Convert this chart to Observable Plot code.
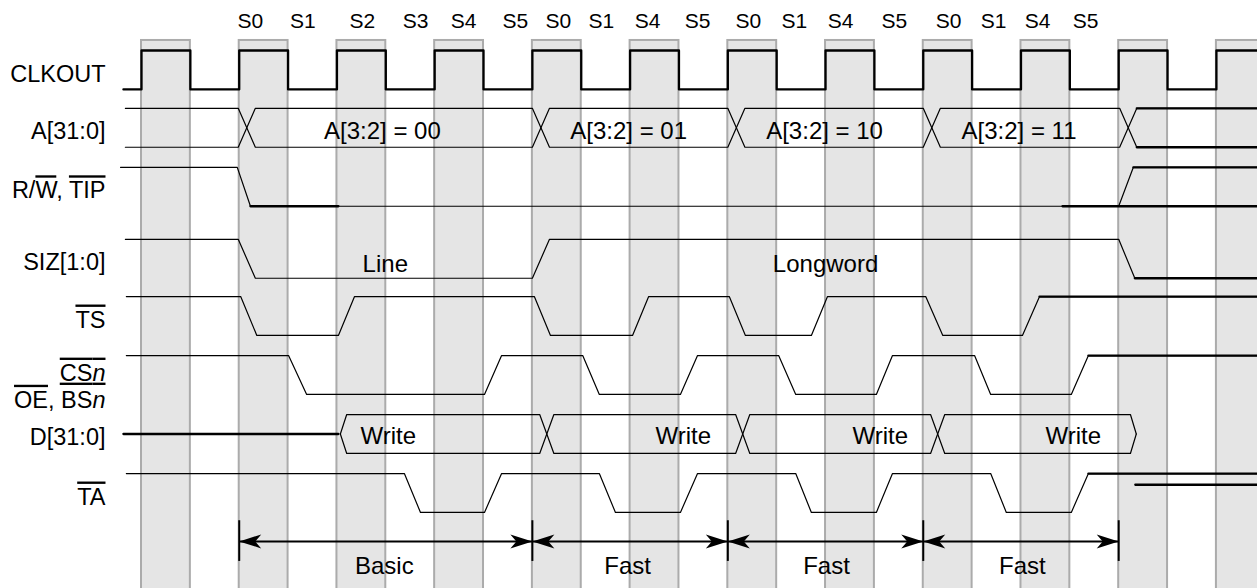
<!DOCTYPE html>
<html><head><meta charset="utf-8">
<script src="https://cdn.jsdelivr.net/npm/d3@7"></script>
<script src="https://cdn.jsdelivr.net/npm/@observablehq/plot@0.6"></script>
<style>html,body{margin:0;padding:0;background:#fff;overflow:hidden}svg{overflow:hidden}</style>
</head><body><div id="chart"></div>
<script>
// ---- DATA (time in half clock cycles) ----
const signalNames = ["CLKOUT", "A[31:0]", "R/{o:W}, {o:TIP}", "SIZ[1:0]", "{o:TS}", "{ou:CS}{oui:n}", "{o:OE}, BS{i:n}", "D[31:0]", "{o:TA}"];
const stateLabels = ["S0","S1","S2","S3","S4","S5","S0","S1","S4","S5","S0","S1","S4","S5","S0","S1","S4","S5"];
const stateT = [2.23,3.30,4.52,5.61,6.59,7.65,8.53,9.41,10.36,11.38,12.42,13.36,14.31,15.41,16.52,17.44,18.34,19.32];
const clkEdges = [0,1,2,3,4,5,6,7,8,9,10,11,12,13,14,15,16,17,18,19,20,21,22];
const aCross = [1.98, 8.0, 12.0, 16.0, 20.02];
const aLabels = ["A[3:2] = 00", "A[3:2] = 01", "A[3:2] = 10", "A[3:2] = 11"];
const aLabelT = [4.93, 9.97, 13.98, 17.96];
const tipEdges = [[1.96, 2.23], [20.0, 20.3]];
const rwLowThick = [[2.23, 4.03], [18.85, 22.9]];
const sizEdges = [[1.98, 2.33], [8.0, 8.35], [20.0, 20.33]];
const sizLabels = ["Line", "Longword"];
const sizLabelT = [4.99, 14.0];
const tsEdges = [[2.03,2.36],[4.03,4.36],[8.04,8.37],[10.05,10.38],[12.03,12.36],[13.71,14.04],[16.05,16.4],[18.03,18.38]];
const csEdges = [[3.01,3.38],[7.02,7.37],[9.03,9.37],[11.03,11.38],[13.04,13.39],[15.04,15.37],[17.05,17.38],[19.03,19.38]];
const dOpen = 4.07, dClose = 20.24;
const dCross = [8.15, 12.16, 16.15];
const dLabels = ["Write", "Write", "Write", "Write"];
const dLabelT = [5.05, 11.09, 15.12, 19.07];
const taEdges = [[5.38,5.71],[7.02,7.37],[9.37,9.70],[11.03,11.38],[13.39,13.71],[15.04,15.37],[17.38,17.70],[19.03,19.38]];
const phaseNames = ["Basic", "Fast", "Fast", "Fast"];
const phaseBounds = [2, 8, 12, 16, 20];
const phaseLabelT = [4.97, 9.95, 14.02, 18.03];

// ---- LAYOUT (lane units) ----
const LANE = {clk:0, a:0.98, rw:1.98, siz:3.2, ts:4.17, cs:5.17, d:6.17, ta:7.17};
const AMP = 0.66, END = 22.9;
const labelU = [0.33, 1.31, 2.31, 3.53, 4.5, 5.40, 5.86, 6.49, 7.5];

const thin = [], thick = [];
function digital(id, base, start, init, edges, thickFrom) {
  let cur = init;
  const pts = [{t: start, lvl: cur}];
  for (const e of edges) {
    const [a, b] = Array.isArray(e) ? e : [e, e];
    pts.push({t: a, lvl: cur}); cur = 1 - cur; pts.push({t: b, lvl: cur});
  }
  pts.push({t: END, lvl: cur});
  const P = pts.map(p => ({id, t: p.t, u: base + (1 - p.lvl) * AMP}));
  if (thickFrom === -Infinity) { thick.push(...P); return; }
  thin.push(...P);
  if (thickFrom != null) thick.push(...P.filter(p => p.t >= thickFrom).map(p => ({...p, id: id + "T"})));
}
function bus(id, base, start, startW, crosses, crossW, end, endW, thickFrom) {
  const top = base, bot = base + AMP, mid = base + AMP / 2;
  for (const side of [0, 1]) {
    let s = side;
    const P = [];
    if (startW > 0) { P.push({t: start, u: mid}); P.push({t: start + startW, u: s ? bot : top}); }
    else P.push({t: start, u: s ? bot : top});
    for (const c of crosses) { P.push({t: c, u: s ? bot : top}); s = 1 - s; P.push({t: c + crossW, u: s ? bot : top}); }
    if (endW > 0) { P.push({t: end, u: s ? bot : top}); P.push({t: end + endW, u: mid}); }
    else P.push({t: end, u: s ? bot : top});
    const Q = P.map(p => ({id: id + side, ...p}));
    thin.push(...Q);
    if (thickFrom != null) thick.push(...Q.filter(p => p.t >= thickFrom).map(p => ({...p, id: id + side + "T"})));
  }
}
digital("clk", LANE.clk, -0.37, 0, clkEdges, -Infinity);
bus("a", LANE.a, -0.33, 0, aCross, 0.35, END, 0, aCross[aCross.length - 1] + 0.35);
digital("tip", LANE.rw, -0.43, 1, tipEdges, 20.3);
rwLowThick.forEach(([a, b], i) => { thick.push({id: "rw" + i, t: a, u: LANE.rw + AMP}, {id: "rw" + i, t: b, u: LANE.rw + AMP}); });
digital("siz", LANE.siz, -0.33, 1, sizEdges, 20.33);
digital("ts", LANE.ts, -0.31, 1, tsEdges, 18.38);
digital("cs", LANE.cs, -0.31, 1, csEdges, 19.38);
bus("d", LANE.d, dOpen, 0.13, dCross, 0.29, dClose, 0.12, null);
thick.push({id: "d0", t: -0.37, u: LANE.d + AMP / 2}, {id: "d0", t: 4.03, u: LANE.d + AMP / 2});
digital("ta", LANE.ta, -0.31, 1, taEdges, 19.38);
thick.push({id: "taX", t: 20.34, u: 7.36}, {id: "taX", t: END, u: 7.36});

// clock-high bands
const bands = [];
for (let i = 0; i < clkEdges.length; i += 2) bands.push({t1: clkEdges[i], t2: clkEdges[i] + 1});

const arrowR = {draw(ctx) { ctx.moveTo(0, 0); ctx.lineTo(-22, -7); ctx.lineTo(-16, 0); ctx.lineTo(-22, 7); ctx.closePath(); }};
const arrowL = {draw(ctx) { ctx.moveTo(0, 0); ctx.lineTo(22, -7); ctx.lineTo(16, 0); ctx.lineTo(22, 7); ctx.closePath(); }};
const phases = phaseNames.map((n, i) => ({n, a: phaseBounds[i], b: phaseBounds[i + 1], c: phaseLabelT[i]}));

const FONT = "Liberation Sans, Arial, Helvetica, sans-serif";
const FS = 24;
const ARROW_U = 8.32;
const svg = Plot.plot({
  width: 1257, height: 588, margin: 0,
  style: {fontFamily: FONT, background: "white", overflow: "hidden"},
  x: {domain: [-141 / 48.86, 1116 / 48.86], axis: null},
  y: {domain: [-50 / 59, 538 / 59], range: [0, 588], axis: null},
  marks: [
    Plot.rect(bands, {x1: "t1", x2: "t2", y1: -0.17, y2: 9.4, fill: "#e5e5e5", stroke: "#ababab", strokeWidth: 2}),
    Plot.line(thin, {x: "t", y: "u", z: "id", stroke: "black", strokeWidth: 1.2}),
    Plot.line(thick, {x: "t", y: "u", z: "id", stroke: "black", strokeWidth: 2.3}),
    Plot.ruleX(phaseBounds, {y1: 7.97, y2: 8.66, stroke: "black", strokeWidth: 2}),
    Plot.link(phases, {x1: "a", x2: "b", y1: ARROW_U, y2: ARROW_U, stroke: "black", strokeWidth: 2}),
    Plot.dot(phases, {x: "b", y: ARROW_U, symbol: arrowR, r: 6, fill: "black", stroke: "none"}),
    Plot.dot(phases, {x: "a", y: ARROW_U, symbol: arrowL, r: 6, fill: "black", stroke: "none"}),
    Plot.text(phases, {x: "c", y: 8.68, text: "n", fontSize: FS, fontFamily: FONT, fill: "black", dy: 4}),
    Plot.text(stateLabels, {x: (d, i) => stateT[i], y: -0.54, text: d => d, fontSize: 21, fontFamily: FONT, fill: "black", dy: 3}),
    Plot.text(signalNames, {x: -0.737, y: (d, i) => labelU[i], text: d => d, textAnchor: "end", fontSize: 23.5, fontFamily: FONT, fill: "black", dy: 4}),
    Plot.text(aLabels, {x: (d, i) => aLabelT[i], y: LANE.a + AMP / 2, text: d => d, fontSize: FS, fontFamily: FONT, fill: "black", dy: 4}),
    Plot.text(sizLabels, {x: (d, i) => sizLabelT[i], y: LANE.siz + AMP / 2, text: d => d, fontSize: FS, fontFamily: FONT, fill: "black", dy: 6}),
    Plot.text(dLabels, {x: (d, i) => dLabelT[i], y: LANE.d + AMP / 2, text: d => d, fontSize: FS, fontFamily: FONT, fill: "black", dy: 2})
  ]
});

// rich text: {o:..} overline, {u:..} underline, {i:..} italic
svg.querySelectorAll("text").forEach(el => {
  const s = el.textContent;
  if (!s.includes("{")) return;
  el.textContent = "";
  const re = /\{([oui]+):([^}]*)\}|([^{]+)/g;
  let m;
  while ((m = re.exec(s))) {
    const ts = document.createElementNS("http://www.w3.org/2000/svg", "tspan");
    if (m[1]) {
      ts.textContent = m[2];
      const deco = [];
      if (m[1].includes("o")) deco.push("overline");
      if (m[1].includes("u")) deco.push("underline");
      if (deco.length) ts.style.textDecoration = deco.join(" ");
      if (m[1].includes("i")) ts.style.fontStyle = "italic";
    } else ts.textContent = m[3];
    el.appendChild(ts);
  }
});
document.getElementById("chart").appendChild(svg);
</script>
</body></html>
